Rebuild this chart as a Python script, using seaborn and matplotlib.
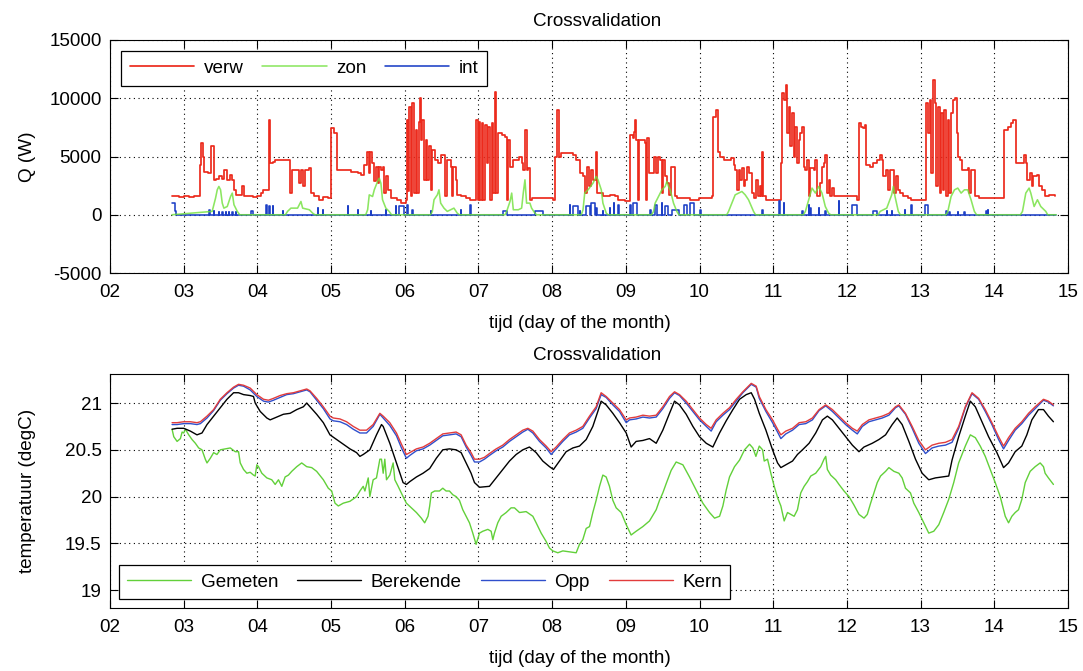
import matplotlib
matplotlib.use("Agg")
import matplotlib.pyplot as plt
import seaborn as sns

# ---------------------------------------------------------------- data
# time axis in days of the month
day_ticks = [2, 3, 4, 5, 6, 7, 8, 9, 10, 11, 12, 13, 14, 15]
day_labels = ["02", "03", "04", "05", "06", "07", "08", "09", "10",
              "11", "12", "13", "14", "15"]

q_ticks = [-5000, 0, 5000, 10000, 15000]
q_labels = ["-5000", "0", "5000", "10000", "15000"]
temp_ticks = [19, 19.5, 20, 20.5, 21]
temp_labels = ["19", "19.5", "20", "20.5", "21"]

# heating power (W), held between samples
t_verw = [
    2.841, 2.932, 3.000, 3.068, 3.136, 3.218, 3.236, 3.259, 3.282, 3.332,
    3.377, 3.405, 3.432, 3.477, 3.514, 3.545, 3.582, 3.623, 3.659, 3.682,
    3.714, 3.786, 3.818, 3.886, 3.941, 4.000, 4.045, 4.077, 4.159, 4.177,
    4.205, 4.241, 4.441, 4.464, 4.568, 4.586, 4.623, 4.650, 4.705, 4.727,
    4.773, 4.842, 4.887, 4.955, 5.000, 5.045, 5.081, 5.270, 5.360, 5.405,
    5.450, 5.487, 5.509, 5.532, 5.559, 5.586, 5.608, 5.631, 5.653, 5.676,
    5.698, 5.721, 5.743, 5.766, 5.811, 5.901, 5.955, 6.018, 6.027, 6.050,
    6.063, 6.081, 6.104, 6.126, 6.149, 6.171, 6.194, 6.207, 6.221, 6.239,
    6.261, 6.284, 6.306, 6.329, 6.351, 6.374, 6.405, 6.450, 6.487, 6.545,
    6.568, 6.622, 6.640, 6.658, 6.689, 6.712, 6.757, 6.825, 6.887, 6.969,
    6.991, 7.005, 7.027, 7.045, 7.068, 7.090, 7.113, 7.135, 7.158, 7.180,
    7.203, 7.221, 7.243, 7.266, 7.315, 7.360, 7.383, 7.401, 7.428, 7.464,
    7.554, 7.586, 7.608, 7.635, 7.653, 7.676, 7.698, 7.721, 8.014, 8.036,
    8.072, 8.090, 8.126, 8.284, 8.329, 8.374, 8.419, 8.442, 8.478, 8.500,
    8.532, 8.554, 8.590, 8.613, 8.689, 8.780, 8.847, 8.900, 8.991, 9.059,
    9.091, 9.113, 9.127, 9.140, 9.163, 9.181, 9.263, 9.276, 9.290, 9.308,
    9.389, 9.412, 9.434, 9.466, 9.489, 9.507, 9.534, 9.557, 9.588, 9.615,
    9.661, 9.692, 9.873, 9.987, 10.168, 10.181, 10.226, 10.249, 10.281, 10.326,
    10.430, 10.462, 10.484, 10.507, 10.530, 10.552, 10.575, 10.597, 10.620, 10.643,
    10.665, 10.711, 10.733, 10.769, 10.792, 10.824, 10.838, 10.851, 10.865, 10.896,
    11.108, 11.122, 11.144, 11.167, 11.189, 11.212, 11.234, 11.257, 11.279, 11.302,
    11.324, 11.347, 11.369, 11.392, 11.414, 11.437, 11.460, 11.482, 11.505, 11.550,
    11.572, 11.595, 11.631, 11.662, 11.685, 11.707, 11.730, 11.752, 11.775, 11.797,
    11.829, 12.135, 12.158, 12.189, 12.216, 12.239, 12.261, 12.315, 12.361, 12.405,
    12.451, 12.473, 12.496, 12.532, 12.563, 12.586, 12.644, 12.667, 12.689, 12.721,
    12.766, 12.834, 12.874, 13.077, 13.099, 13.122, 13.144, 13.167, 13.189, 13.212,
    13.234, 13.257, 13.279, 13.302, 13.324, 13.347, 13.370, 13.392, 13.414, 13.437,
    13.469, 13.491, 13.514, 13.536, 13.559, 13.640, 13.662, 13.685, 13.734, 13.797,
    14.135, 14.180, 14.225, 14.257, 14.293, 14.406, 14.428, 14.451, 14.482, 14.509,
    14.532, 14.586, 14.608, 14.653, 14.689, 14.743, 14.820,
]
verw = [
    1570, 1500, 1650, 1550, 1600, 4300, 6140, 5000, 3700, 3570,
    5860, 3000, 3100, 3300, 3100, 3860, 3000, 3430, 3000, 2140,
    1700, 2430, 1570, 1600, 1500, 1570, 1860, 2140, 8140, 4430,
    4570, 4710, 1860, 3860, 2710, 3860, 2430, 3860, 4000, 1860,
    1570, 1300, 1500, 1430, 7430, 7000, 3850, 3700, 3570, 3430,
    4290, 5430, 3570, 5430, 4430, 2860, 4140, 2710, 4140, 3860,
    4140, 1860, 3290, 2140, 1430, 1290, 1000, 1290, 8140, 2000,
    9290, 1570, 9570, 1860, 7290, 1860, 8000, 10000, 6430, 8140,
    3000, 6430, 3000, 5860, 2140, 5570, 4710, 4430, 5140, 1570,
    4710, 4140, 1570, 4140, 3000, 1710, 1570, 1430, 1290, 8140,
    1290, 8000, 1290, 7860, 1290, 7710, 4430, 7570, 1290, 7860,
    1860, 10570, 1860, 7000, 6860, 6710, 1290, 6430, 4140, 4710,
    5000, 4430, 3860, 7290, 3860, 4000, 1290, 1430, 1290, 5000,
    9000, 5000, 5290, 5140, 4710, 3570, 3290, 1860, 4140, 2430,
    3860, 3000, 5430, 1860, 1570, 1710, 1570, 1290, 1140, 6860,
    6570, 7140, 8140, 6430, 1290, 6430, 6140, 1290, 6570, 3570,
    5000, 3570, 5000, 4710, 1860, 4710, 3290, 2710, 1710, 4140,
    1570, 1430, 1290, 1430, 1570, 8430, 9000, 5430, 5000, 4710,
    4860, 4290, 3860, 2140, 3860, 3000, 4000, 2430, 3000, 4140,
    3570, 1860, 1430, 3000, 1570, 2430, 1570, 5430, 1570, 1290,
    4430, 10430, 9860, 11140, 7000, 9290, 5860, 8710, 5000, 7570,
    4430, 6430, 7000, 7570, 4140, 3860, 4710, 1570, 4000, 3860,
    4710, 1570, 2710, 4140, 4430, 5140, 1860, 3000, 1570, 2290,
    1570, 1290, 7860, 7570, 7430, 7710, 4290, 4140, 4430, 4710,
    5140, 4710, 3290, 3860, 2140, 3860, 1860, 3290, 2140, 1860,
    1570, 1430, 1290, 9570, 7000, 9860, 3570, 11570, 9570, 2430,
    9290, 1860, 8710, 2140, 9000, 1570, 8140, 1860, 8710, 9860,
    10000, 7000, 5000, 4710, 3860, 4000, 1860, 3860, 1570, 1430,
    7290, 7570, 7860, 8140, 4430, 5140, 4430, 3000, 3570, 2430,
    3290, 3430, 2430, 2140, 1570, 1710, 1570,
]

# solar gains (W)
t_zon = [
    2.840, 3.386, 3.432, 3.455, 3.477, 3.500, 3.523, 3.545, 3.591, 3.636, 3.659, 3.682, 3.727, 3.760,
    4.380, 4.409, 4.455, 4.545, 4.591, 4.614, 4.705, 4.750, 4.780,
    5.470, 5.496, 5.518, 5.563, 5.586, 5.631, 5.653, 5.676, 5.698, 5.743, 5.788, 5.820,
    6.350, 6.374, 6.397, 6.442, 6.464, 6.487, 6.532, 6.577, 6.667, 6.712, 6.740,
    7.360, 7.383, 7.428, 7.451, 7.473, 7.541, 7.586, 7.608, 7.631, 7.653, 7.698, 7.721, 7.766, 7.790,
    8.395, 8.419, 8.442, 8.487, 8.554, 8.599, 8.622, 8.667, 8.689, 8.734, 8.760,
    9.350, 9.376, 9.398, 9.444, 9.489, 9.534, 9.557, 9.579, 9.602, 9.625, 9.647, 9.692, 9.720,
    10.370, 10.394, 10.439, 10.484, 10.530, 10.575, 10.620, 10.665, 10.733, 10.760,
    11.410, 11.437, 11.482, 11.527, 11.572, 11.617, 11.662, 11.707, 11.752, 11.780,
    12.425, 12.451, 12.541, 12.608, 12.631, 12.653, 12.698, 12.725,
    13.345, 13.370, 13.414, 13.460, 13.505, 13.550, 13.595, 13.640, 13.685, 13.730, 13.760,
    14.355, 14.383, 14.428, 14.473, 14.496, 14.541, 14.586, 14.631, 14.699, 14.725, 14.840,
]
zon = [
    0, 290, 1430, 2140, 2430, 2140, 1000, 570, 710, 1570, 1860, 860, 290, 0,
    0, 290, 570, 570, 1140, 570, 430, 140, 0,
    0, 430, 1710, 1570, 2140, 2860, 3140, 2710, 1290, 570, 290, 0,
    0, 290, 1290, 1710, 2140, 1000, 570, 290, 570, 140, 0,
    0, 290, 1140, 1860, 430, 430, 570, 1860, 3000, 1000, 1000, 570, 140, 0,
    0, 430, 1860, 2140, 2710, 3290, 3000, 2140, 1000, 140, 0,
    0, 290, 1000, 1570, 2140, 2430, 2860, 2430, 2140, 1570, 1000, 290, 0,
    0, 290, 1000, 1710, 1860, 2000, 1710, 1290, 290, 0,
    0, 290, 1290, 2290, 1860, 2430, 1860, 710, 140, 0,
    0, 290, 570, 1710, 2430, 1570, 290, 0,
    0, 290, 1570, 2140, 2290, 1860, 2140, 2140, 1290, 290, 0,
    0, 290, 1860, 2290, 1860, 710, 1290, 710, 290, 0, 0,
]

# internal gains (W), held between samples
t_int = [
    2.840, 2.885, 2.900, 3.341, 3.356, 3.409, 3.416, 3.477, 3.482, 3.523,
    3.528, 3.568, 3.573, 3.614, 3.619, 3.659, 3.664, 3.705, 3.710, 3.909,
    3.941, 4.114, 4.132, 4.159, 4.166, 4.205, 4.212, 4.341, 4.347, 4.820,
    4.827, 4.887, 4.894, 5.225, 5.232, 5.360, 5.367, 5.541, 5.548, 5.743,
    5.750, 5.878, 5.885, 5.923, 5.991, 6.036, 6.043, 6.104, 6.111, 6.351,
    6.358, 6.757, 6.764, 6.887, 6.894, 7.338, 7.383, 7.766, 7.878, 8.239,
    8.246, 8.284, 8.351, 8.374, 8.381, 8.464, 8.509, 8.532, 8.577, 8.599,
    8.606, 8.689, 8.696, 8.780, 8.787, 8.833, 8.840, 8.900, 8.907, 9.059,
    9.066, 9.104, 9.149, 9.330, 9.337, 9.398, 9.421, 9.489, 9.496, 9.534,
    9.579, 9.625, 9.715, 9.783, 9.828, 9.873, 9.919, 10.009, 10.016, 10.851,
    10.858, 11.077, 11.099, 11.144, 11.151, 11.392, 11.399, 11.482, 11.489, 11.505,
    11.512, 11.617, 11.624, 11.707, 11.714, 11.887, 11.894, 12.070, 12.140, 12.361,
    12.405, 12.541, 12.548, 12.608, 12.615, 12.788, 12.795, 12.874, 12.881, 13.054,
    13.099, 13.347, 13.354, 13.392, 13.399, 13.505, 13.512, 13.595, 13.602, 13.888,
    13.895, 13.910, 13.917, 14.840,
]
int_q = [
    1000, 300, 0, 430, 0, 290, 0, 200, 0, 200,
    0, 200, 0, 200, 0, 200, 0, 200, 0, 290,
    0, 860, 0, 780, 0, 710, 0, 290, 0, 570,
    0, 430, 0, 710, 0, 430, 0, 290, 0, 430,
    0, 710, 0, 780, 0, 860, 0, 430, 0, 290,
    0, 430, 0, 860, 0, 290, 0, 290, 0, 860,
    0, 710, 0, 290, 0, 710, 0, 1000, 0, 570,
    0, 290, 0, 570, 0, 1000, 0, 860, 0, 860,
    0, 1000, 0, 430, 0, 860, 0, 1000, 0, 710,
    0, 430, 0, 860, 0, 1000, 0, 430, 0, 430,
    0, 1140, 0, 1000, 0, 290, 0, 860, 0, 570,
    0, 570, 0, 290, 0, 1140, 0, 860, 0, 290,
    0, 290, 0, 290, 0, 430, 0, 860, 0, 860,
    0, 290, 0, 200, 0, 200, 0, 200, 0, 290,
    0, 430, 0, 0,
]

# core and surface temperature (degC)
t_kern = [
    2.842, 2.910, 3.000, 3.090, 3.180, 3.226, 3.316, 3.406, 3.496, 3.587,
    3.677, 3.744, 3.812, 3.902, 3.992, 4.083, 4.150, 4.218, 4.308, 4.398,
    4.489, 4.579, 4.669, 4.714, 4.804, 4.895, 4.985, 5.030, 5.120, 5.210,
    5.301, 5.391, 5.481, 5.571, 5.662, 5.707, 5.797, 5.887, 5.955, 6.022,
    6.068, 6.158, 6.248, 6.338, 6.428,
    6.516, 6.606, 6.697, 6.765, 6.833, 6.900, 6.946, 7.014, 7.081, 7.149,
    7.240, 7.330, 7.421, 7.511, 7.602, 7.670, 7.738, 7.828, 7.919, 7.987,
    8.054, 8.145, 8.235, 8.326, 8.416, 8.507, 8.597, 8.665, 8.733, 8.824,
    8.914, 9.005, 9.050, 9.140, 9.231, 9.321, 9.412, 9.502, 9.593, 9.661,
    9.728, 9.819, 9.910, 10.000, 10.091, 10.158, 10.226, 10.317, 10.407, 10.498,
    10.588, 10.702, 10.769,
    10.811, 10.901, 10.991, 11.059, 11.104, 11.171, 11.262, 11.352, 11.442, 11.532,
    11.623, 11.713, 11.803, 11.893, 11.983, 12.074, 12.141, 12.209, 12.299, 12.389,
    12.480, 12.570, 12.660, 12.705, 12.795, 12.886, 12.976, 13.066, 13.156, 13.247,
    13.337, 13.427, 13.517, 13.607, 13.698, 13.788, 13.878, 13.968, 14.059, 14.126,
    14.194, 14.284, 14.374, 14.465, 14.555, 14.668, 14.735, 14.803,
]
kern = [
    20.79, 20.79, 20.80, 20.80, 20.79, 20.80, 20.86, 20.93, 21.04, 21.11,
    21.17, 21.20, 21.19, 21.16, 21.09, 21.04, 21.03, 21.05, 21.08, 21.10,
    21.11, 21.13, 21.15, 21.13, 21.05, 20.96, 20.86, 20.84, 20.83, 20.80,
    20.75, 20.71, 20.71, 20.77, 20.89, 20.86, 20.79, 20.68, 20.56, 20.45,
    20.47, 20.51, 20.53, 20.57, 20.62,
    20.67, 20.68, 20.69, 20.66, 20.55, 20.47, 20.40, 20.40, 20.42, 20.46,
    20.51, 20.55, 20.61, 20.66, 20.71, 20.73, 20.70, 20.61, 20.54, 20.48,
    20.53, 20.61, 20.68, 20.71, 20.75, 20.86, 20.96, 21.11, 21.07, 21.00,
    20.93, 20.82, 20.84, 20.85, 20.87, 20.86, 20.87, 20.96, 21.07, 21.12,
    21.09, 21.02, 20.93, 20.84, 20.77, 20.73, 20.82, 20.89, 20.95, 21.04,
    21.12, 21.21, 21.18,
    21.07, 20.93, 20.82, 20.72, 20.66, 20.70, 20.73, 20.79, 20.80, 20.84,
    20.93, 20.98, 20.93, 20.86, 20.79, 20.73, 20.70, 20.77, 20.82, 20.84,
    20.86, 20.89, 20.96, 20.98, 20.89, 20.75, 20.60, 20.50, 20.55, 20.57,
    20.58, 20.61, 20.75, 20.96, 21.11, 21.05, 20.93, 20.79, 20.64, 20.54,
    20.63, 20.73, 20.80, 20.89, 20.96, 21.04, 21.02, 20.98,
]
opp = [
    20.77, 20.77, 20.78, 20.78, 20.77, 20.78, 20.84, 20.92, 21.03, 21.10,
    21.16, 21.19, 21.18, 21.14, 21.07, 21.02, 21.01, 21.03, 21.06, 21.09,
    21.10, 21.12, 21.14, 21.12, 21.03, 20.94, 20.83, 20.81, 20.80, 20.77,
    20.72, 20.68, 20.68, 20.75, 20.88, 20.84, 20.76, 20.65, 20.52, 20.41,
    20.44, 20.49, 20.51, 20.55, 20.60,
    20.65, 20.66, 20.67, 20.64, 20.53, 20.44, 20.37, 20.37, 20.40, 20.44,
    20.49, 20.53, 20.59, 20.64, 20.69, 20.72, 20.68, 20.59, 20.52, 20.45,
    20.51, 20.59, 20.66, 20.69, 20.73, 20.84, 20.94, 21.09, 21.06, 20.98,
    20.91, 20.79, 20.82, 20.83, 20.85, 20.84, 20.85, 20.94, 21.05, 21.11,
    21.08, 21.00, 20.91, 20.82, 20.75, 20.70, 20.80, 20.87, 20.93, 21.02,
    21.11, 21.20, 21.17,
    21.05, 20.91, 20.79, 20.69, 20.62, 20.67, 20.71, 20.77, 20.78, 20.82,
    20.92, 20.97, 20.91, 20.84, 20.77, 20.71, 20.67, 20.75, 20.80, 20.82,
    20.84, 20.87, 20.95, 20.97, 20.88, 20.73, 20.57, 20.46, 20.52, 20.54,
    20.55, 20.58, 20.73, 20.95, 21.10, 21.04, 20.91, 20.77, 20.61, 20.51,
    20.60, 20.71, 20.78, 20.87, 20.94, 21.03, 21.01, 20.97,
]

# computed air temperature (degC)
t_berekende = [
    2.842, 2.910, 3.000, 3.090, 3.180, 3.248, 3.316, 3.406, 3.496, 3.587,
    3.677, 3.744, 3.812, 3.902, 3.947, 3.970, 4.038, 4.128, 4.173, 4.263,
    4.353, 4.443, 4.534, 4.624, 4.669, 4.714, 4.804, 4.895, 4.985, 5.075,
    5.165, 5.256, 5.346, 5.391, 5.436, 5.526, 5.616, 5.684, 5.707, 5.797,
    5.887, 5.977, 6.022, 6.068, 6.158, 6.248, 6.338, 6.428,
    6.516, 6.606, 6.697, 6.765, 6.833, 6.900, 6.946, 7.014, 7.149, 7.240,
    7.330, 7.421, 7.511, 7.602, 7.692, 7.783, 7.873, 7.964, 8.018, 8.100,
    8.190, 8.281, 8.371, 8.462, 8.552, 8.620, 8.665, 8.733, 8.824, 8.914,
    9.005, 9.072, 9.140, 9.231, 9.321, 9.412, 9.502, 9.593, 9.661, 9.728,
    9.819, 9.910, 10.000, 10.091, 10.181, 10.272, 10.362, 10.453, 10.543, 10.634,
    10.702, 10.747,
    10.811, 10.901, 10.991, 11.059, 11.104, 11.171, 11.262, 11.329, 11.397, 11.487,
    11.577, 11.668, 11.735, 11.803, 11.893, 11.983, 12.074, 12.164, 12.232, 12.344,
    12.435, 12.525, 12.615, 12.683, 12.750, 12.841, 12.931, 13.021, 13.111, 13.201,
    13.292, 13.382, 13.427, 13.517, 13.607, 13.675, 13.743, 13.833, 13.923, 14.036,
    14.126, 14.194, 14.284, 14.374, 14.442, 14.510, 14.600, 14.668, 14.735, 14.803,
]
berekende = [
    20.72, 20.73, 20.73, 20.70, 20.66, 20.68, 20.77, 20.86, 20.95, 21.04,
    21.11, 21.11, 21.09, 21.08, 21.07, 21.00, 20.91, 20.84, 20.82, 20.85,
    20.88, 20.89, 20.93, 20.96, 21.00, 20.96, 20.88, 20.79, 20.66, 20.61,
    20.56, 20.51, 20.47, 20.43, 20.45, 20.50, 20.66, 20.77, 20.75, 20.57,
    20.36, 20.15, 20.13, 20.16, 20.21, 20.25, 20.30, 20.41,
    20.50, 20.51, 20.50, 20.47, 20.36, 20.25, 20.15, 20.10, 20.11, 20.20,
    20.29, 20.38, 20.45, 20.50, 20.53, 20.47, 20.38, 20.32, 20.29, 20.38,
    20.48, 20.52, 20.54, 20.61, 20.75, 20.91, 21.02, 20.98, 20.89, 20.79,
    20.68, 20.53, 20.59, 20.60, 20.62, 20.57, 20.71, 20.89, 21.02, 20.98,
    20.88, 20.75, 20.64, 20.57, 20.53, 20.68, 20.81, 20.93, 21.04, 21.09,
    21.11, 21.04,
    20.89, 20.71, 20.50, 20.36, 20.31, 20.34, 20.38, 20.45, 20.50, 20.57,
    20.68, 20.82, 20.86, 20.82, 20.73, 20.64, 20.55, 20.48, 20.53, 20.57,
    20.61, 20.66, 20.77, 20.84, 20.77, 20.59, 20.40, 20.25, 20.18, 20.20,
    20.21, 20.22, 20.39, 20.64, 20.86, 21.02, 20.96, 20.80, 20.64, 20.47,
    20.31, 20.36, 20.48, 20.54, 20.66, 20.82, 20.93, 20.93, 20.86, 20.80,
]

# measured air temperature (degC)
t_gemeten = [
    2.842, 2.865, 2.910, 2.955, 2.978, 3.000, 3.023, 3.068, 3.113, 3.158,
    3.203, 3.248, 3.293, 3.316, 3.361, 3.406, 3.451, 3.496, 3.564, 3.632,
    3.699, 3.744, 3.767, 3.812, 3.857, 3.902, 3.947, 3.970, 3.992, 4.015,
    4.060, 4.128, 4.195, 4.241, 4.286, 4.331, 4.376, 4.421, 4.466, 4.534,
    4.601, 4.669, 4.737, 4.804, 4.895, 4.962, 5.008, 5.053, 5.098, 5.165,
    5.256, 5.346, 5.391, 5.436, 5.459, 5.504, 5.526, 5.571, 5.616, 5.662,
    5.684, 5.707, 5.729, 5.752, 5.797, 5.842, 5.865, 5.910, 5.977, 6.022,
    6.090, 6.158, 6.225, 6.270, 6.315, 6.338, 6.361, 6.406,
    6.471, 6.516, 6.561, 6.606, 6.652, 6.697, 6.742, 6.787, 6.833, 6.878,
    6.923, 6.968, 7.014, 7.059, 7.127, 7.172, 7.195, 7.217, 7.262, 7.308,
    7.376, 7.443, 7.489, 7.557, 7.647, 7.738, 7.783, 7.851, 7.919, 7.964,
    8.009, 8.077, 8.145, 8.235, 8.326, 8.371, 8.416, 8.462, 8.507, 8.552,
    8.597, 8.643, 8.688, 8.733, 8.778, 8.824, 8.869, 8.937, 9.005, 9.072,
    9.140, 9.231, 9.321, 9.412, 9.457, 9.502, 9.548, 9.615, 9.683, 9.774,
    9.864, 9.955, 10.045, 10.136, 10.204, 10.272, 10.317, 10.362, 10.407, 10.475,
    10.543, 10.611, 10.679, 10.724,
    10.765, 10.811, 10.856, 10.878, 10.923, 10.968, 11.014, 11.059, 11.104, 11.149,
    11.194, 11.239, 11.284, 11.329, 11.374, 11.420, 11.465, 11.510, 11.577, 11.645,
    11.690, 11.713, 11.735, 11.780, 11.848, 11.893, 11.961, 12.029, 12.096, 12.164,
    12.232, 12.277, 12.322, 12.367, 12.412, 12.457, 12.525, 12.570, 12.638, 12.705,
    12.750, 12.795, 12.863, 12.908, 12.976, 13.044, 13.111, 13.179, 13.247, 13.314,
    13.382, 13.450, 13.517, 13.607, 13.675, 13.743, 13.810, 13.878, 13.946, 14.013,
    14.081, 14.149, 14.194, 14.239, 14.284, 14.329, 14.374, 14.420, 14.487, 14.555,
    14.623, 14.668, 14.690, 14.735, 14.803,
]
gemeten = [
    20.72, 20.64, 20.59, 20.62, 20.69, 20.68, 20.72, 20.66, 20.61, 20.57,
    20.52, 20.50, 20.40, 20.36, 20.41, 20.47, 20.45, 20.50, 20.51, 20.52,
    20.48, 20.48, 20.36, 20.29, 20.25, 20.26, 20.23, 20.22, 20.34, 20.32,
    20.25, 20.20, 20.18, 20.13, 20.18, 20.11, 20.21, 20.23, 20.27, 20.32,
    20.36, 20.32, 20.31, 20.27, 20.18, 20.09, 20.06, 19.93, 19.90, 19.93,
    19.95, 20.00, 20.06, 20.11, 20.06, 20.20, 20.00, 20.18, 20.20, 20.40,
    20.40, 20.25, 20.40, 20.18, 20.23, 20.36, 20.18, 20.11, 20.00, 19.93,
    19.88, 19.83, 19.77, 19.72, 19.79, 19.90, 20.04, 20.06,
    20.06, 20.09, 20.06, 20.06, 20.02, 20.00, 19.96, 19.86, 19.79, 19.72,
    19.61, 19.49, 19.61, 19.63, 19.65, 19.63, 19.54, 19.61, 19.72, 19.79,
    19.83, 19.88, 19.88, 19.83, 19.84, 19.79, 19.72, 19.61, 19.52, 19.45,
    19.42, 19.40, 19.42, 19.41, 19.40, 19.49, 19.54, 19.66, 19.68, 19.83,
    19.96, 20.11, 20.23, 20.21, 20.11, 19.96, 19.88, 19.83, 19.70, 19.59,
    19.63, 19.68, 19.74, 19.86, 19.96, 20.04, 20.14, 20.28, 20.37, 20.34,
    20.21, 20.07, 19.93, 19.83, 19.77, 19.79, 19.90, 20.07, 20.21, 20.32,
    20.39, 20.50, 20.56, 20.52,
    20.43, 20.54, 20.50, 20.38, 20.40, 20.25, 20.11, 19.99, 19.90, 19.74,
    19.83, 19.81, 19.79, 19.86, 20.04, 20.11, 20.16, 20.22, 20.25, 20.32,
    20.40, 20.43, 20.29, 20.23, 20.18, 20.13, 20.06, 20.00, 19.91, 19.81,
    19.77, 19.81, 19.93, 20.04, 20.15, 20.22, 20.27, 20.31, 20.27, 20.25,
    20.20, 20.09, 20.04, 19.93, 19.83, 19.72, 19.61, 19.63, 19.70, 19.83,
    19.97, 20.15, 20.36, 20.54, 20.66, 20.63, 20.54, 20.43, 20.29, 20.15,
    20.00, 19.79, 19.72, 19.79, 19.83, 19.86, 19.97, 20.15, 20.27, 20.32,
    20.36, 20.32, 20.25, 20.20, 20.13,
]

# ---------------------------------------------------------------- style
sns.set_theme(style="ticks")
plt.rcParams["font.family"] = ["Liberation Sans", "DejaVu Sans"]
FS = 13.6
plt.rcParams.update({
    "axes.linewidth": 0.8,
    "axes.edgecolor": "black",
    "xtick.color": "black",
    "ytick.color": "black",
    "text.color": "black",
    "axes.labelcolor": "black",
})

RED_Q, GREEN_Q, BLUE_Q = "#ec2a1c", "#6fe03a", "#1c3fc6"
C_GEM, C_BER, C_OPP, C_KERN = "#62d03a", "black", "#2f4fcc", "#e23c3c"

fig = plt.figure(figsize=(10.83, 6.71), dpi=100)
fig.patch.set_facecolor("white")
ax1 = fig.add_axes([0.1016, 0.5931, 0.8845, 0.3473])
ax2 = fig.add_axes([0.1016, 0.0939, 0.8845, 0.3487])


def line(ax, x, y, color, lw=1.0, **kw):
    sns.lineplot(x=x, y=y, ax=ax, color=color, lw=lw, estimator=None,
                 sort=False, legend=False, **kw)
    return ax.lines[-1]


# top panel: power terms
h_verw = line(ax1, t_verw, verw, RED_Q, lw=1.25, drawstyle="steps-post")
h_int = line(ax1, t_int, int_q, BLUE_Q, lw=1.15, drawstyle="steps-post")
h_zon = line(ax1, t_zon, zon, GREEN_Q, lw=1.15, alpha=0.8)

# bottom panel: temperatures
h_gem = line(ax2, t_gemeten, gemeten, C_GEM)
h_ber = line(ax2, t_berekende, berekende, C_BER)
h_opp = line(ax2, t_kern, opp, C_OPP)
h_kern = line(ax2, t_kern, kern, C_KERN)


def style_axes(ax, yticks, ylabels, ylim, ylabel):
    ax.set_facecolor("white")
    ax.set_xlim(day_ticks[0], day_ticks[-1])
    ax.set_ylim(*ylim)
    ax.set_xticks(day_ticks)
    ax.set_xticklabels(day_labels)
    ax.set_yticks(yticks)
    ax.set_yticklabels(ylabels)
    ax.tick_params(direction="in", top=True, right=True, length=6,
                   width=0.8, labelsize=FS)
    ax.tick_params(axis="x", pad=8)
    ax.tick_params(axis="y", pad=6)
    for s in ax.spines.values():
        s.set_visible(True)
        s.set_color("black")
        s.set_linewidth(0.8)
    ax.grid(True, color="black", linestyle=(0, (1, 3.2)), linewidth=0.8)
    ax.set_axisbelow(True)
    ax.set_title("Crossvalidation", fontsize=FS, pad=10, x=0.509)
    ax.set_xlabel("tijd (day of the month)", fontsize=FS)
    ax.set_ylabel(ylabel, fontsize=FS)
    ax.xaxis.set_label_coords(0.49, -0.18)
    ax.yaxis.set_label_coords(-0.077, 0.5)


style_axes(ax1, q_ticks, q_labels, (-5000, 15000), "Q (W)")
style_axes(ax2, temp_ticks, temp_labels, (18.81, 21.31), "temperatuur (degC)")

leg_kw = dict(ncol=4, frameon=True, fancybox=False, framealpha=1,
              edgecolor="black", handlelength=3.4, handletextpad=0.5,
              columnspacing=1.0, borderpad=0.45, fontsize=FS)
leg1 = ax1.legend([h_verw, h_zon, h_int], ["verw", "zon", "int"],
                  loc="upper left", borderaxespad=0.6, **leg_kw)
leg2 = ax2.legend([h_gem, h_ber, h_opp, h_kern],
                  ["Gemeten", "Berekende", "Opp", "Kern"],
                  loc="lower left", borderaxespad=0.45, **leg_kw)
for lg in (leg1, leg2):
    lg.get_frame().set_linewidth(0.9)

fig.savefig("out.png", dpi=100, facecolor="white")
